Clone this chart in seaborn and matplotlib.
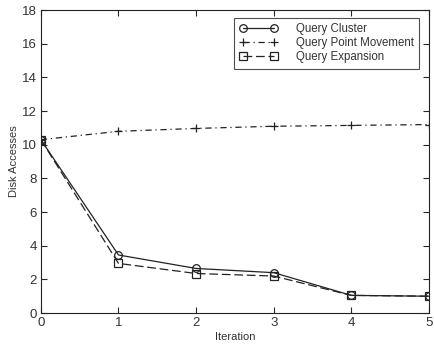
import matplotlib
matplotlib.use("Agg")
import matplotlib.pyplot as plt
import seaborn as sns
import pandas as pd

iterations = [0, 1, 2, 3, 4, 5]
query_cluster = [10.3, 3.45, 2.65, 2.4, 1.05, 1.0]
query_point_movement = [10.3, 10.8, 10.97, 11.1, 11.15, 11.2]
query_expansion = [10.3, 2.95, 2.35, 2.2, 1.05, 1.0]

sns.set_style("ticks")
plt.rcParams["font.family"] = ["Liberation Sans", "DejaVu Sans"]

fig = plt.figure(figsize=(4.35, 3.49), dpi=100)
ax = fig.add_axes([0.094, 0.103, 0.892, 0.868])

series = [
    ("Query Cluster", query_cluster, "-", "o"),
    ("Query Point Movement", query_point_movement, (0, (5, 3, 1, 3)), "+"),
    ("Query Expansion", query_expansion, (0, (7, 3)), "s"),
]
for name, vals, ls, mk in series:
    df = pd.DataFrame({"Iteration": iterations, "Disk Accesses": vals})
    sns.lineplot(data=df, x="Iteration", y="Disk Accesses", ax=ax, color="#222222",
                 linestyle=ls, marker=mk, markersize=5.5, markerfacecolor="none",
                 markeredgecolor="#222222", markeredgewidth=0.9, linewidth=0.9,
                 label=name)

ax.set_xlim(0, 5)
ax.set_ylim(0, 18)
ax.set_xticks(range(0, 6))
ax.set_yticks(range(0, 19, 2))
ax.tick_params(direction="in", top=True, right=True, labelsize=9.5, length=4,
               width=0.8, labelcolor="#333333", pad=3)
for s in ax.spines.values():
    s.set_linewidth(0.8)
    s.set_color("#222222")
ax.set_xlabel("Iteration", fontsize=8, labelpad=2, color="#333333")
ax.set_ylabel("Disk Accesses", fontsize=8, labelpad=2, color="#333333")

leg = ax.legend(loc="upper right", bbox_to_anchor=(0.975, 0.975), fontsize=8.3,
                frameon=True, fancybox=False, edgecolor="#222222", handlelength=3.3,
                numpoints=2, borderpad=0.45, labelspacing=0.2, handletextpad=1.6,
                borderaxespad=0)
leg.get_frame().set_linewidth(0.8)
for t in leg.get_texts():
    t.set_color("#333333")

fig.savefig("out.png", dpi=100)
